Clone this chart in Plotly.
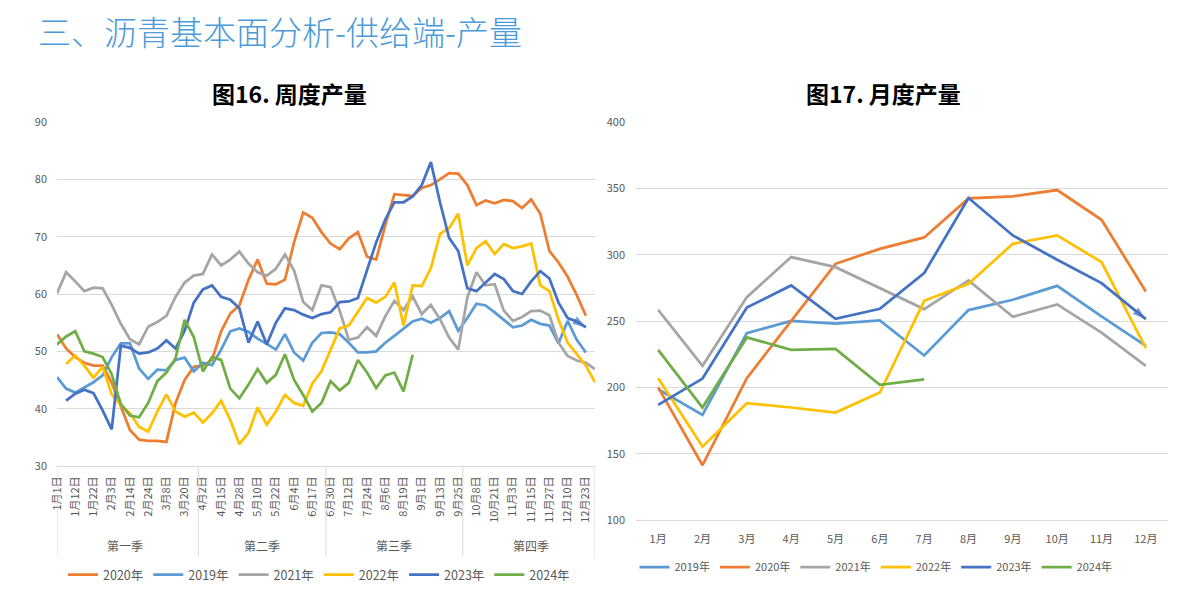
import plotly.graph_objects as go

W, H = 1185, 605

# ---------------- weekly chart data (图16) ----------------
week_labels = ["1月1日", "1月12日", "1月22日", "2月3日", "2月14日", "2月24日", "3月8日", "3月20日",
               "4月2日", "4月15日", "4月28日", "5月10日", "5月22日", "6月4日", "6月17日",
               "6月30日", "7月12日", "7月24日", "8月6日", "8月19日", "9月1日", "9月13日", "9月25日",
               "10月8日", "10月21日", "11月3日", "11月15日", "11月27日", "12月10日", "12月23日"]
label_step = 2
n_weeks = 60
quarters = ["第一季", "第二季", "第三季", "第四季"]
quarter_sizes = [16, 14, 15, 15]

w2020 = [53.0, 50.5, 49.0, 48.0, 47.5, 47.5, 44.5, 40.5, 36.3, 34.6,
         34.4, 34.4, 34.2, 41.0, 45.0, 47.3, 47.5, 48.5, 53.5, 56.6,
         58.0, 62.5, 66.0, 61.8, 61.7, 62.5, 69.0, 74.2, 73.3, 70.8,
         68.8, 67.8, 69.7, 70.8, 66.5, 66.0, 72.0, 77.4, 77.3, 77.1,
         78.5, 79.0, 80.0, 81.1, 81.0, 79.0, 75.5, 76.3, 75.8, 76.4,
         76.2, 75.0, 76.5, 74.0, 67.5, 65.5, 63.0, 59.8, 56.2, None]
w2019 = [45.5, 43.5, 42.8, 43.7, 44.6, 45.8, 49.0, 51.4, 51.4, 47.0,
         45.2, 46.8, 46.7, 48.5, 48.9, 46.5, 48.0, 47.6, 50.3, 53.5,
         54.0, 53.4, 52.2, 51.3, 50.3, 53.0, 49.8, 48.4, 51.5, 53.2,
         53.3, 53.0, 51.5, 49.8, 49.8, 50.0, 51.5, 52.7, 54.0, 55.2,
         55.7, 55.0, 55.8, 57.0, 53.6, 55.8, 58.3, 58.0, 56.8, 55.5,
         54.2, 54.5, 55.5, 54.8, 54.5, 51.4, 55.3, 52.0, 49.8, None]
w2021 = [60.1, 63.8, 62.2, 60.5, 61.1, 61.0, 58.1, 54.8, 52.1, 51.2,
         54.3, 55.1, 56.2, 59.5, 62.0, 63.2, 63.5, 66.9, 65.0, 66.0,
         67.4, 65.3, 63.8, 63.2, 64.4, 66.9, 64.1, 58.6, 57.2, 61.5,
         61.2, 57.1, 52.0, 52.4, 54.2, 52.7, 56.1, 58.8, 57.2, 59.6,
         56.5, 58.1, 55.6, 52.4, 50.3, 59.4, 63.8, 61.5, 61.7, 57.1,
         55.3, 56.0, 57.0, 57.1, 56.3, 51.5, 49.2, 48.4, 48.0, 46.9]
w2022 = [None, 47.8, 49.3, 47.5, 45.4, 47.3, 42.5, 40.6, 39.2, 36.8,
         36.0, 39.5, 42.5, 39.5, 38.6, 39.3, 37.6, 39.2, 41.4, 38.0,
         33.8, 35.8, 40.2, 37.2, 39.5, 42.4, 41.0, 40.5, 44.4, 46.5,
         50.1, 54.0, 54.5, 56.8, 59.3, 58.5, 59.5, 62.0, 54.5, 61.5,
         61.4, 64.5, 70.5, 71.5, 74.0, 65.0, 68.0, 69.2, 67.0, 68.7,
         68.0, 68.3, 68.8, 61.5, 60.5, 55.5, 51.5, 49.5, 47.5, 44.6]
w2023 = [None, 41.4, 42.6, 43.3, 42.7, 39.7, 36.4, 51.0, 50.6, 49.6,
         49.8, 50.5, 51.9, 50.5, 53.6, 58.5, 60.8, 61.5, 59.5, 59.0,
         57.5, 51.5, 55.2, 51.2, 55.0, 57.5, 57.2, 56.4, 55.8, 56.5,
         56.8, 58.6, 58.7, 59.3, 64.0, 69.0, 73.0, 76.0, 76.0, 77.0,
         79.0, 83.0, 76.0, 69.8, 67.5, 61.0, 60.5, 62.0, 63.5, 62.6,
         60.5, 60.0, 62.2, 64.0, 62.7, 58.5, 55.8, 55.2, 54.2, None]
w2024 = [51.2, 52.6, 53.5, 50.0, 49.6, 49.0, 46.0, 40.8, 38.8, 38.5,
         41.0, 44.8, 46.3, 48.8, 55.5, 52.5, 46.5, 49.0, 48.5, 43.5,
         41.8, 44.2, 46.9, 44.5, 45.9, 49.5, 45.0, 42.4, 39.5, 41.0,
         44.8, 43.2, 44.5, 48.5, 46.3, 43.6, 45.8, 46.3, 43.0, 49.4,
         None, None, None, None, None, None, None, None, None, None,
         None, None, None, None, None, None, None, None, None, None]

# ---------------- monthly chart data (图17) ----------------
months = ["1月", "2月", "3月", "4月", "5月", "6月", "7月", "8月", "9月", "10月", "11月", "12月"]
m2019 = [198.6, 179.2, 240.8, 250.1, 248.0, 250.4, 224.0, 258.2, 266.0, 276.5, 253.4, 231.3]
m2020 = [200.0, 141.3, 206.9, 250.4, 293.1, 304.4, 313.0, 342.4, 343.9, 348.7, 326.3, 272.3]
m2021 = [258.4, 216.2, 268.0, 298.2, 290.6, 274.8, 259.0, 280.6, 253.2, 262.5, 241.3, 216.2]
m2022 = [206.9, 155.3, 188.0, 184.8, 181.0, 196.1, 265.2, 278.0, 308.2, 314.5, 294.4, 229.5]
m2023 = [186.8, 206.6, 260.2, 276.8, 251.6, 259.2, 286.1, 342.7, 314.5, 296.2, 278.6, 251.4]
m2024 = [228.3, 184.8, 237.6, 228.3, 229.0, 201.9, 206.0]

# ---------------- styles ----------------
C2019 = "#5B9BD5"
C2020 = "#ED7D31"
C2021 = "#A5A5A5"
C2022 = "#FFC000"
C2023 = "#4472C4"
C2024 = "#70AD47"
GRID = "#D9D9D9"
TXT = "#595959"
FONT = "Noto Sans CJK SC"
LW = 2.75


def pxx(v):
    return v / W


def pxy(v):
    return 1 - v / H


week_x = list(range(n_weeks))
fig = go.Figure()

left_series = [("2020年", w2020, C2020), ("2019年", w2019, C2019), ("2021年", w2021, C2021),
               ("2022年", w2022, C2022), ("2023年", w2023, C2023), ("2024年", w2024, C2024)]
for name, vals, col in left_series:
    fig.add_trace(go.Scatter(x=week_x, y=vals, mode="lines", name=name, connectgaps=True,
                             line=dict(color=col, width=LW), xaxis="x", yaxis="y",
                             legend="legend", hoverinfo="skip"))

# arrow head at the end of 2023 weekly line
valid = [(x, v) for x, v in zip(week_x, w2023) if v is not None]
fig.add_trace(go.Scatter(x=[p[0] for p in valid[-2:]], y=[p[1] for p in valid[-2:]],
                         mode="markers", showlegend=False, xaxis="x", yaxis="y",
                         marker=dict(symbol="arrow", angleref="previous", size=[0, 14],
                                     color=C2023, line=dict(width=0)), hoverinfo="skip"))

right_series = [("2019年", m2019, C2019), ("2020年", m2020, C2020), ("2021年", m2021, C2021),
                ("2022年", m2022, C2022), ("2023年", m2023, C2023), ("2024年", m2024, C2024)]
for name, vals, col in right_series:
    fig.add_trace(go.Scatter(x=months[:len(vals)], y=vals, mode="lines", name=name,
                             line=dict(color=col, width=LW), xaxis="x2", yaxis="y2",
                             legend="legend2", hoverinfo="skip"))

fig.add_trace(go.Scatter(x=months[-2:], y=m2023[-2:], mode="markers", showlegend=False,
                         xaxis="x2", yaxis="y2",
                         marker=dict(symbol="arrow", angleref="previous", size=[0, 14],
                                     color=C2023, line=dict(width=0)), hoverinfo="skip"))

tickfont = dict(family=FONT, size=11, color=TXT)

fig.update_layout(
    width=W, height=H,
    margin=dict(l=0, r=0, t=0, b=0, pad=0, autoexpand=False),
    paper_bgcolor="white", plot_bgcolor="white",
    font=dict(family=FONT, color=TXT),
    xaxis=dict(domain=[pxx(57), pxx(595)], range=[0, n_weeks - 1],
               tickmode="array", tickvals=week_x[::label_step], ticktext=week_labels,
               tickangle=-90, showgrid=False, zeroline=False, showline=True,
               linecolor=GRID, linewidth=1, ticks="", tickfont=tickfont,
               ticklabelstandoff=5, anchor="y", automargin=False),
    yaxis=dict(domain=[pxy(466), pxy(122)], range=[30, 90], dtick=10,
               showgrid=True, gridcolor=GRID, gridwidth=1, zeroline=False,
               showline=False, ticks="", tickfont=tickfont, ticklabelstandoff=9,
               anchor="x", automargin=False),
    xaxis2=dict(domain=[pxx(636), pxx(1168)], type="category",
                range=[-0.5, len(months) - 0.5], showgrid=False,
                zeroline=False, showline=True, linecolor=GRID, ticks="",
                tickfont=tickfont, ticklabelstandoff=9, anchor="y2", automargin=False),
    yaxis2=dict(domain=[pxy(520), pxy(122)], range=[100, 400], dtick=50,
                showgrid=True, gridcolor=GRID, gridwidth=1, zeroline=False,
                showline=False, ticks="", tickfont=tickfont, ticklabelstandoff=10,
                anchor="x2", automargin=False),
    legend=dict(orientation="h", x=pxx(319), xanchor="center", y=pxy(575),
                yanchor="middle", font=dict(family=FONT, size=12.5, color=TXT),
                bgcolor="rgba(0,0,0,0)", itemwidth=30, tracegroupgap=0),
    legend2=dict(orientation="h", x=pxx(876), xanchor="center", y=pxy(567),
                 yanchor="middle", font=dict(family=FONT, size=11, color=TXT),
                 bgcolor="rgba(0,0,0,0)", itemwidth=30, tracegroupgap=0),
)

# quarter group separators and labels
shapes = []
annotations = []
starts = []
s = 0
for q in quarter_sizes:
    starts.append(s)
    s += q
ends = [st + q - 1 for st, q in zip(starts, quarter_sizes)]
bounds = [0] + [(ends[i] + starts[i + 1]) / 2 for i in range(len(quarters) - 1)] + [n_weeks - 1]
for b in bounds:
    shapes.append(dict(type="line", xref="x", yref="paper", x0=b, x1=b,
                       y0=pxy(466), y1=pxy(556), line=dict(color=GRID, width=1)))
for qname, st, en in zip(quarters, starts, ends):
    annotations.append(dict(text=qname, x=(st + en) / 2, xref="x", y=pxy(545), yref="paper",
                            showarrow=False, xanchor="center", yanchor="middle",
                            font=dict(family=FONT, size=12, color=TXT)))

annotations.append(dict(text="三、沥青基本面分析-供给端-产量", x=pxx(36), xref="paper",
                        y=pxy(31), yref="paper", xanchor="left", yanchor="middle",
                        showarrow=False,
                        font=dict(family=FONT, size=33, color="#4A9BD8", weight=300)))
annotations.append(dict(text="<b>图16. 周度产量</b>", x=pxx(289), xref="paper", y=pxy(93),
                        yref="paper", xanchor="center", yanchor="middle", showarrow=False,
                        font=dict(family=FONT, size=23, color="#000000")))
annotations.append(dict(text="<b>图17. 月度产量</b>", x=pxx(883), xref="paper", y=pxy(93),
                        yref="paper", xanchor="center", yanchor="middle", showarrow=False,
                        font=dict(family=FONT, size=23, color="#000000")))

fig.update_layout(shapes=shapes, annotations=annotations)
fig.write_html("out.html", config={"displayModeBar": False},
               post_script="document.body.style.margin='0px';")
